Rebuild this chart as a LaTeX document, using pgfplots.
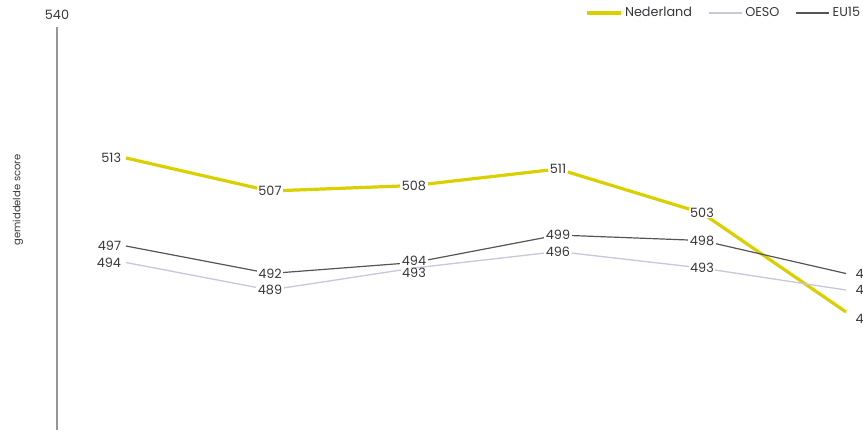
\documentclass[border=0pt]{standalone}
\usepackage{pgfplots}
\pgfplotsset{compat=1.18}
\usepackage{fontspec}
\setmainfont{Poppins}
\definecolor{nl}{RGB}{218,208,0}
\definecolor{oeso}{RGB}{200,200,218}
\definecolor{eu}{RGB}{85,85,85}
\definecolor{axisgray}{RGB}{150,150,150}
\definecolor{txt}{RGB}{55,55,60}
\begin{document}
\begin{tikzpicture}
\begin{axis}[
  scale only axis, width=604.5pt, height=302.25pt,
  xmin=-0.479, xmax=5.118, ymin=463.55, ymax=536.82,
  axis lines=none, clip=false,
  /pgf/number format/assume math mode=true,
  font=\fontsize{9.6}{10}\selectfont,
  legend style={at={(1,1.0347)}, anchor=east, draw=none, fill=none, inner sep=0pt,
    legend columns=3, /tikz/every even column/.append style={column sep=10pt},
    font=\fontsize{9.6}{10}\selectfont, text=txt},
  legend cell align=left,
  legend image code/.code={\path (0pt,0pt) -- (25pt,0pt); \draw[#1] (0pt,0pt) -- (22pt,0pt);},
]
\draw[axisgray, line width=0.9pt] (rel axis cs:0,0) -- (rel axis cs:0,1);
\node[text=txt] at (rel axis cs:0,1) [yshift=9pt] {540};
\coordinate (ylabpos) at (rel axis cs:0,0.571);

\addplot[nl, line width=2.4pt] coordinates {(0,513)(1,507)(2,508)(3,511)(4,503)(5,485)};
\addlegendentry{Nederland}
\addplot[oeso, line width=1pt] coordinates {(0,494)(1,489)(2,493)(3,496)(4,493)(5,489)};
\addlegendentry{OESO}
\addplot[eu, line width=0.9pt] coordinates {(0,497)(1,492)(2,494)(3,499)(4,498)(5,492)};
\addlegendentry{EU15}

% labels
\pgfplotsset{midlab/.style={forget plot, draw=none, nodes near coords, point meta=y,
   every node near coord/.append style={anchor=center, fill=white, inner xsep=1.2pt, inner ysep=0.3pt, text=txt}}}
\pgfplotsset{firstlab/.style={forget plot, draw=none, nodes near coords, point meta=y,
   every node near coord/.append style={anchor=east, inner sep=0pt, xshift=-3.5pt, text=txt}}}
\pgfplotsset{lastlab/.style={forget plot, draw=none, nodes near coords, point meta=y,
   every node near coord/.append style={anchor=west, inner sep=0pt, xshift=7pt, text=txt}}}
\addplot[midlab] coordinates {(1,507)(2,508)(3,511)(4,503)};
\addplot[midlab] coordinates {(1,489)(3,496)(4,493)};
\addplot[midlab, every node near coord/.append style={yshift=-3.5pt}] coordinates {(2,493)};
\addplot[midlab] coordinates {(1,492)(3,499)(4,498)};
\addplot[midlab, every node near coord/.append style={yshift=1.5pt}] coordinates {(2,494)};
\addplot[firstlab] coordinates {(0,513)(0,494)(0,497)};
\addplot[lastlab] coordinates {(5,492)(5,489)};
\addplot[lastlab, every node near coord/.append style={yshift=-5pt}] coordinates {(5,485)};
\end{axis}
\node[rotate=90, text=txt, font=\fontsize{7.5}{8}\selectfont] at ([xshift=-29.25pt]ylabpos) {gemiddelde score};
\pgfresetboundingbox
\useasboundingbox (-42.75pt,0pt) rectangle (604.5pt,322.5pt);
\end{tikzpicture}
\end{document}
